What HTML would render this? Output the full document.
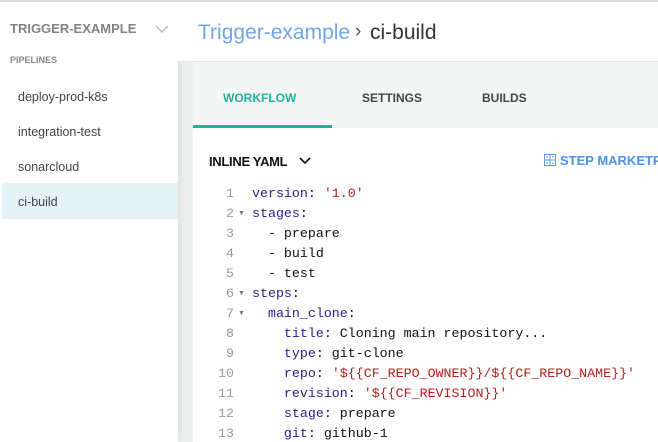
<!DOCTYPE html>
<html><head><meta charset="utf-8"><style>
*{margin:0;padding:0;box-sizing:border-box}
html,body{width:658px;height:442px;overflow:hidden}
body{background:#eef0ef;font-family:"Liberation Sans",sans-serif;position:relative}
.abs{position:absolute;white-space:nowrap}
#side{position:absolute;left:0;top:0;width:178px;height:442px;background:#fff;border-top:2px solid #ddd;box-shadow:2px 0 6px rgba(0,0,0,.08)}
#hdr{position:absolute;left:178px;top:0;width:480px;height:62px;background:#fff;border-top:2px solid #ddd;border-bottom:1px solid #e3e6e5}
#tabs{position:absolute;left:193px;top:62px;width:465px;height:66px;background:#f3f6f5}
#panel{position:absolute;left:193px;top:128px;width:465px;height:314px;background:#fff;overflow:hidden}
.code{font-family:"Liberation Mono",monospace;font-size:13.3px;line-height:20px}
.code div{white-space:pre;height:20px}
.k{color:#2a1d8f}.s{color:#b81c1c}.v{color:#111}.n{color:#999;text-align:right;width:40px}
</style></head><body>
<div id="side">
<div class="abs" style="left:10px;top:19px;font-size:13px;font-weight:bold;color:#858180">TRIGGER-EXAMPLE</div>
<svg class="abs" style="left:155px;top:22px" width="14" height="10"><path d="M1 2 L7 8 L13 2" fill="none" stroke="#bbb" stroke-width="1.4"/></svg>
<div class="abs" style="left:10px;top:53px;font-size:9px;font-weight:bold;color:#888">PIPELINES</div>
<div class="abs" style="left:18px;top:88px;font-size:12.5px;color:#444">deploy-prod-k8s</div>
<div class="abs" style="left:18px;top:123px;font-size:12.5px;color:#444">integration-test</div>
<div class="abs" style="left:18px;top:158px;font-size:12.5px;color:#444">sonarcloud</div>
<div class="abs" style="left:2px;top:181px;width:176px;height:36px;background:#e5f2f6"></div>
<div class="abs" style="left:18px;top:193px;font-size:12.5px;color:#444">ci-build</div>
</div>
<div id="hdr">
<div class="abs" style="left:20px;top:19px;font-size:21px;color:#6fa6e8">Trigger-example</div>
<div class="abs" style="left:177px;top:19px;font-size:19px;color:#555">›</div>
<div class="abs" style="left:192px;top:19px;font-size:21px;color:#333">ci-build</div>
</div>
<div id="tabs">
<div class="abs" style="left:30px;top:29px;font-size:12px;font-weight:bold;color:#1bb39e">WORKFLOW</div>
<div class="abs" style="left:169px;top:29px;font-size:12px;font-weight:bold;color:#444">SETTINGS</div>
<div class="abs" style="left:289px;top:29px;font-size:12px;font-weight:bold;color:#444">BUILDS</div>
<div class="abs" style="left:0;top:63px;width:139px;height:3px;background:#1bb39e"></div>
</div>
<div id="panel">
<div class="abs" style="left:16px;top:26px;font-size:13px;font-weight:bold;color:#111;letter-spacing:-0.3px">INLINE YAML</div>
<svg class="abs" style="left:106px;top:29px" width="12" height="8"><path d="M1 1 L6 6 L11 1" fill="none" stroke="#111" stroke-width="1.6"/></svg>
<svg class="abs" style="left:351px;top:26px" width="12" height="12"><rect x="0.5" y="0.5" width="11" height="11" fill="none" stroke="#5b9de8"/><path d="M6 0V12M0 6H12M3 2v2M9 2v2M3 8v2M9 8v2" stroke="#5b9de8"/></svg>
<div class="abs" style="left:367px;top:25px;font-size:13px;font-weight:bold;color:#4a93e6">STEP MARKETPLACE</div>
<div class="abs code" style="left:1px;top:56px"><div class="n">1</div><div class="n">2</div><div class="n">3</div><div class="n">4</div><div class="n">5</div><div class="n">6</div><div class="n">7</div><div class="n">8</div><div class="n">9</div><div class="n">10</div><div class="n">11</div><div class="n">12</div><div class="n">13</div></div>
<div class="abs" style="left:45px;top:56px;font-size:7px;line-height:20px;color:#777"><div style="height:20px"></div><div style="height:20px">▼</div><div style="height:60px"></div><div style="height:20px">▼</div><div style="height:20px">▼</div></div>
<div class="abs code" style="left:59px;top:56px"><div><span class="k">version</span><span class="v">: </span><span class="s">'1.0'</span></div><div><span class="k">stages</span><span class="v">:</span></div><div class="v">  - prepare</div><div class="v">  - build</div><div class="v">  - test</div><div><span class="k">steps</span><span class="v">:</span></div><div>  <span class="k">main_clone</span><span class="v">:</span></div><div>    <span class="k">title</span><span class="v">: Cloning main repository...</span></div><div>    <span class="k">type</span><span class="v">: git-clone</span></div><div>    <span class="k">repo</span><span class="v">: </span><span class="s">'${{CF_REPO_OWNER}}/${{CF_REPO_NAME}}'</span></div><div>    <span class="k">revision</span><span class="v">: </span><span class="s">'${{CF_REVISION}}'</span></div><div>    <span class="k">stage</span><span class="v">: prepare</span></div><div>    <span class="k">git</span><span class="v">: github-1</span></div></div>
</div>
</body></html>
